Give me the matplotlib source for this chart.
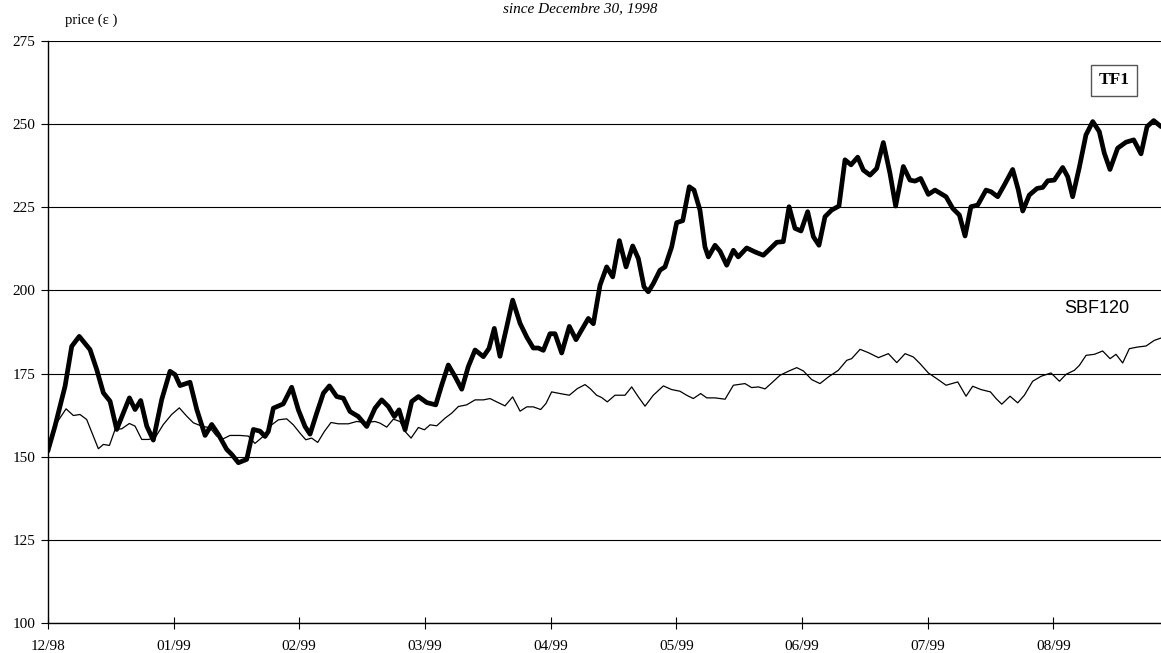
import matplotlib.pyplot as plt

# position en mois depuis le 30/12/1998 (0 = 12/98, 1 = 01/99, ...)
tf1_x = [0.0, 0.057, 0.137, 0.19, 0.25, 0.336, 0.389, 0.442, 0.495, 0.548, 0.601, 0.649,
         0.694, 0.739, 0.787, 0.839, 0.906, 0.972, 1.012, 1.052, 1.131, 1.185, 1.251,
         1.304, 1.357, 1.423, 1.463, 1.516, 1.582, 1.635, 1.688, 1.728, 1.754, 1.794,
         1.873, 1.940, 1.993, 2.046, 2.086, 2.139, 2.192, 2.240, 2.298, 2.351, 2.404,
         2.470, 2.537, 2.603, 2.656, 2.709, 2.757, 2.794, 2.842, 2.895, 2.948, 3.014,
         3.086, 3.134, 3.186, 3.240, 3.293, 3.345, 3.399, 3.465, 3.510, 3.552, 3.597,
         3.651, 3.698, 3.757, 3.810, 3.862, 3.902, 3.942, 3.995, 4.035, 4.088, 4.149,
         4.202, 4.260, 4.300, 4.340, 4.393, 4.446, 4.494, 4.547, 4.600, 4.653, 4.698,
         4.743, 4.777, 4.817, 4.870, 4.910, 4.963, 5.003, 5.051, 5.103, 5.141, 5.188,
         5.228, 5.255, 5.308, 5.348, 5.401, 5.454, 5.493, 5.560, 5.626, 5.692, 5.745,
         5.799, 5.851, 5.897, 5.944, 5.992, 6.045, 6.090, 6.135, 6.183, 6.236, 6.294,
         6.342, 6.390, 6.443, 6.488, 6.541, 6.594, 6.647, 6.700, 6.745, 6.806, 6.859,
         6.899, 6.944, 7.005, 7.058, 7.146, 7.199, 7.252, 7.297, 7.344, 7.398, 7.464,
         7.504, 7.557, 7.609, 7.676, 7.721, 7.756, 7.808, 7.870, 7.915, 7.955, 8.007,
         8.074, 8.114, 8.153, 8.206, 8.259, 8.313, 8.365, 8.405, 8.450, 8.511, 8.577,
         8.639, 8.697, 8.745, 8.798, 8.856]
tf1_y = [151.7, 159.2, 171.2, 183.2, 186.2, 182.2, 176.2, 169.2, 166.7, 158.2, 163.2, 167.7,
         164.2, 166.9, 159.2, 155.0, 167.2, 175.7, 174.7, 171.4, 172.4, 164.2, 156.4,
         159.7, 156.7, 152.2, 150.7, 148.2, 149.2, 158.2, 157.7, 156.1, 157.6, 164.6,
         165.9, 170.9, 164.1, 159.1, 156.8, 163.1, 169.1, 171.3, 168.1, 167.6, 163.6,
         162.1, 159.1, 164.6, 167.1, 165.1, 162.1, 164.1, 158.1, 166.6, 168.1, 166.3,
         165.6, 171.6, 177.6, 174.1, 170.3, 177.1, 182.1, 180.1, 182.6, 188.6, 180.2,
         189.1, 197.1, 190.1, 186.0, 182.7, 182.7, 182.0, 187.0, 187.0, 181.2, 189.2,
         185.2, 189.0, 191.6, 190.0, 201.6, 207.1, 204.1, 215.0, 207.1, 213.4, 209.6,
         201.1, 199.6, 202.1, 206.1, 207.1, 213.1, 220.4, 221.0, 231.2, 230.2, 224.2,
         213.1, 210.1, 213.6, 211.8, 207.6, 212.1, 210.1, 212.8, 211.6, 210.6, 212.5,
         214.5, 214.7, 225.2, 218.7, 217.9, 223.7, 216.2, 213.6, 222.2, 224.2, 225.4,
         239.3, 237.8, 240.1, 236.2, 234.7, 236.7, 244.5, 235.2, 225.4, 237.3, 233.2,
         232.9, 233.7, 228.9, 230.2, 228.2, 224.7, 222.7, 216.4, 225.2, 225.7, 230.2,
         229.7, 228.2, 231.7, 236.4, 230.2, 223.9, 228.7, 230.7, 231.0, 233.0, 233.2,
         237.0, 234.2, 228.2, 237.0, 246.8, 250.8, 247.8, 241.3, 236.4, 242.8, 244.6,
         245.3, 241.1, 249.3, 251.1, 249.3]

sbf_x = [0.0, 0.071, 0.145, 0.203, 0.256, 0.309, 0.362, 0.402, 0.442, 0.490, 0.535, 0.588,
         0.649, 0.694, 0.747, 0.800, 0.853, 0.919, 0.985, 1.046, 1.105, 1.158, 1.224,
         1.290, 1.343, 1.396, 1.449, 1.529, 1.595, 1.648, 1.701, 1.728, 1.781, 1.834,
         1.900, 1.953, 2.006, 2.052, 2.099, 2.147, 2.200, 2.253, 2.311, 2.391, 2.457,
         2.523, 2.603, 2.643, 2.696, 2.749, 2.802, 2.842, 2.890, 2.948, 2.996, 3.041,
         3.094, 3.160, 3.213, 3.266, 3.332, 3.399, 3.465, 3.518, 3.571, 3.637, 3.698,
         3.757, 3.810, 3.862, 3.921, 3.963, 4.008, 4.075, 4.149, 4.213, 4.274, 4.314,
         4.366, 4.406, 4.451, 4.512, 4.592, 4.645, 4.698, 4.751, 4.817, 4.897, 4.963,
         5.029, 5.082, 5.135, 5.194, 5.242, 5.308, 5.388, 5.454, 5.546, 5.599, 5.653,
         5.706, 5.759, 5.825, 5.891, 5.958, 6.011, 6.077, 6.143, 6.210, 6.289, 6.356,
         6.395, 6.462, 6.528, 6.608, 6.687, 6.754, 6.820, 6.886, 6.939, 7.005, 7.079,
         7.146, 7.239, 7.305, 7.358, 7.424, 7.499, 7.544, 7.589, 7.655, 7.716, 7.769,
         7.835, 7.902, 7.981, 8.048, 8.101, 8.167, 8.207, 8.260, 8.326, 8.392, 8.451,
         8.498, 8.551, 8.604, 8.671, 8.737, 8.803, 8.856]
sbf_y = [151.7, 160.2, 164.4, 162.4, 162.7, 161.2, 156.2, 152.4, 153.7, 153.4, 158.2, 158.4,
         160.0, 159.2, 155.2, 155.2, 155.7, 159.7, 162.7, 164.7, 162.2, 160.2, 159.2,
         158.7, 156.2, 155.4, 156.4, 156.4, 156.2, 154.0, 155.7, 156.6, 159.6, 161.1,
         161.4, 159.6, 157.1, 155.1, 155.6, 154.3, 157.6, 160.3, 159.9, 159.9, 160.6,
         160.3, 160.6, 160.1, 158.9, 161.3, 160.6, 157.6, 155.6, 158.8, 158.1, 159.6,
         159.3, 161.6, 163.1, 165.1, 165.6, 167.1, 167.1, 167.5, 166.5, 165.3, 168.0,
         163.7, 165.0, 165.0, 164.2, 166.0, 169.5, 169.0, 168.5, 170.5, 171.7, 170.5,
         168.5, 167.8, 166.5, 168.5, 168.5, 171.0, 168.0, 165.2, 168.5, 171.3, 170.2,
         169.7, 168.5, 167.5, 169.0, 167.7, 167.7, 167.3, 171.5, 172.0, 170.8, 171.0,
         170.4, 172.2, 174.5, 175.7, 176.8, 175.8, 173.2, 172.0, 174.0, 176.0, 179.0,
         179.5, 182.3, 181.3, 179.8, 181.0, 178.3, 181.0, 180.0, 178.0, 175.2, 173.3,
         171.5, 172.5, 168.2, 171.2, 170.2, 169.5, 167.5, 165.8, 168.2, 166.2, 168.5,
         172.7, 174.2, 175.2, 172.7, 174.8, 176.0, 177.5, 180.5, 180.8, 181.8, 179.5,
         180.8, 178.2, 182.5, 183.0, 183.3, 185.0, 185.7]

mois = ["12/98", "01/99", "02/99", "03/99", "04/99", "05/99", "06/99", "07/99", "08/99"]
yticks = [100, 125, 150, 175, 200, 225, 250, 275]

serif = "Liberation Serif"

fig = plt.figure(figsize=(11.61, 6.53), dpi=100)
ax = fig.add_axes([0.0412, 0.046, 0.9588, 0.891])

ax.plot(sbf_x, sbf_y, color="black", linewidth=0.9, solid_joinstyle="round")
ax.plot(tf1_x, tf1_y, color="black", linewidth=3.4, solid_joinstyle="round",
        solid_capstyle="round")

ax.set_xlim(0, 8.856)
ax.set_ylim(100, 275)
ax.set_yticks(yticks)
ax.set_xticks(range(len(mois)))
ax.set_xticklabels(mois)
ax.yaxis.grid(True, color="black", linewidth=0.8)
ax.set_axisbelow(True)

for s in ["top", "right"]:
    ax.spines[s].set_visible(False)
ax.spines["left"].set_linewidth(1.0)
ax.spines["bottom"].set_linewidth(1.0)

ax.tick_params(axis="y", direction="out", length=5, width=0.8, pad=4)
ax.tick_params(axis="x", direction="inout", length=9, width=0.8, pad=8)
for lab in ax.get_xticklabels() + ax.get_yticklabels():
    lab.set_fontfamily(serif)
    lab.set_fontsize(11)

fig.text(0.056, 0.969, "price (\u03b5 )", fontfamily=serif, fontsize=10.5,
         ha="left", va="center")
fig.text(0.5, 0.987, "since Decembre 30, 1998", fontfamily=serif, fontsize=11,
         style="italic", ha="center", va="center")

fig.text(0.9595, 0.877, "TF1", fontfamily=serif, fontsize=12.5, fontweight="bold",
         ha="center", va="center",
         bbox=dict(boxstyle="square,pad=0.45", facecolor="white", edgecolor="#555555",
                   linewidth=1.0))
fig.text(0.945, 0.528, "SBF120", fontfamily="Liberation Sans", fontsize=13,
         ha="center", va="center")

fig.savefig("out.png", dpi=100)
